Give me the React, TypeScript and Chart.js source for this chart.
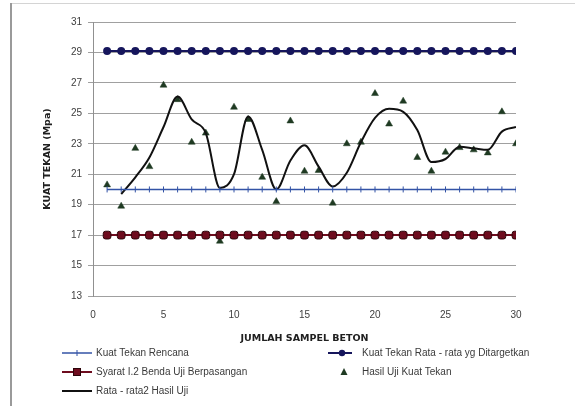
import React, { useEffect, useRef } from "react";
import { Chart, registerables } from "chart.js";
Chart.register(...registerables);

const sampleNo = [1, 2, 3, 4, 5, 6, 7, 8, 9, 10, 11, 12, 13, 14, 15, 16, 17, 18, 19, 20, 21, 22, 23, 24, 25, 26, 27, 28, 29, 30];
const kuatRencana = [20, 20, 20, 20, 20, 20, 20, 20, 20, 20, 20, 20, 20, 20, 20, 20, 20, 20, 20, 20, 20, 20, 20, 20, 20, 20, 20, 20, 20, 20];
const kuatTarget = [29.1, 29.1, 29.1, 29.1, 29.1, 29.1, 29.1, 29.1, 29.1, 29.1, 29.1, 29.1, 29.1, 29.1, 29.1, 29.1, 29.1, 29.1, 29.1, 29.1, 29.1, 29.1, 29.1, 29.1, 29.1, 29.1, 29.1, 29.1, 29.1, 29.1];
const syaratBerpasangan = [17, 17, 17, 17, 17, 17, 17, 17, 17, 17, 17, 17, 17, 17, 17, 17, 17, 17, 17, 17, 17, 17, 17, 17, 17, 17, 17, 17, 17, 17];
const hasilUji = [20.3, 18.9, 22.7, 21.5, 26.85, 25.9, 23.1, 23.7, 16.6, 25.4, 24.6, 20.8, 19.2, 24.5, 21.2, 21.25, 19.1, 23.0, 23.1, 26.3, 24.3, 25.8, 22.1, 21.2, 22.45, 22.75, 22.6, 22.4, 25.1, 23.0];
const rataRata2 = [null, 19.7, 20.8, 22.1, 24.1, 26.1, 24.6, 23.7, 20.1, 21.0, 24.8, 22.6, 20.0, 21.9, 22.9, 21.5, 20.2, 21.1, 23.1, 24.7, 25.3, 25.1, 23.9, 21.8, 22.0, 22.8, 22.7, 22.6, 23.8, 24.1];
const yTicks = [13, 15, 17, 19, 21, 23, 25, 27, 29, 31];
const xTicks = [0, 5, 10, 15, 20, 25, 30];

const legendLabels = [
  "Kuat Tekan Rencana",
  "Kuat Tekan Rata - rata yg Ditargetkan",
  "Syarat I.2 Benda Uji Berpasangan",
  "Hasil Uji Kuat Tekan",
  "Rata - rata2 Hasil Uji",
];

const FONT = "'Liberation Sans', Arial, sans-serif";
const TITLE_FONT = "'DejaVu Sans', sans-serif";
const C_BLUE = "#3353a6";
const C_NAVY = "#16165c";
const C_RED = "#6e0c1e";
const C_RED_BORDER = "#2c0409";
const C_TRI = "#1f3a22";
const C_BLACK = "#111111";

const pts = (ys: (number | null)[]) => sampleNo.map((x, i) => ({ x, y: ys[i] }));

const framePlugin = {
  id: "frame",
  beforeDraw(chart: any) {
    const ctx = chart.ctx;
    ctx.save();
    ctx.fillStyle = "#ffffff";
    ctx.fillRect(0, 0, chart.width, chart.height);
    ctx.strokeStyle = "#d4d4d4";
    ctx.lineWidth = 1;
    ctx.beginPath();
    ctx.moveTo(11, 3.5);
    ctx.lineTo(chart.width, 3.5);
    ctx.stroke();
    ctx.strokeStyle = "#9a9a9a";
    ctx.lineWidth = 2;
    ctx.beginPath();
    ctx.moveTo(11, 3);
    ctx.lineTo(11, chart.height);
    ctx.stroke();
    ctx.restore();
  },
};

function marker(ctx: CanvasRenderingContext2D, kind: string, x: number, y: number) {
  ctx.save();
  if (kind === "tick") {
    ctx.strokeStyle = C_BLUE;
    ctx.lineWidth = 1;
    ctx.beginPath();
    ctx.moveTo(x, y - 3);
    ctx.lineTo(x, y + 3);
    ctx.stroke();
  } else if (kind === "diamond") {
    ctx.fillStyle = C_NAVY;
    ctx.beginPath();
    ctx.arc(x, y, 3.2, 0, Math.PI * 2);
    ctx.fill();
  } else if (kind === "square") {
    ctx.fillStyle = C_RED;
    ctx.strokeStyle = C_RED_BORDER;
    ctx.lineWidth = 1;
    ctx.fillRect(x - 3.5, y - 3.5, 7, 7);
    ctx.strokeRect(x - 3.5, y - 3.5, 7, 7);
  } else if (kind === "triangle") {
    ctx.fillStyle = C_TRI;
    ctx.beginPath();
    ctx.moveTo(x, y - 4);
    ctx.lineTo(x + 3.5, y + 3);
    ctx.lineTo(x - 3.5, y + 3);
    ctx.closePath();
    ctx.fill();
  }
  ctx.restore();
}

const legendPlugin = {
  id: "customLegend",
  afterDraw(chart: any) {
    const ctx: CanvasRenderingContext2D = chart.ctx;
    ctx.save();
    ctx.font = `10px ${FONT}`;
    ctx.fillStyle = "#3a3a3a";
    ctx.textBaseline = "middle";
    const rows = [353, 372, 391];
    const col1 = { x0: 62, x1: 92, tx: 96 };
    const col2 = { x0: 328, x1: 352, tx: 362 };
    const line = (x0: number, x1: number, y: number, color: string, w: number) => {
      ctx.strokeStyle = color;
      ctx.lineWidth = w;
      ctx.beginPath();
      ctx.moveTo(x0, y);
      ctx.lineTo(x1, y);
      ctx.stroke();
    };
    line(col1.x0, col1.x1, rows[0], C_BLUE, 1.5);
    marker(ctx, "tick", (col1.x0 + col1.x1) / 2, rows[0]);
    ctx.fillText(legendLabels[0], col1.tx, rows[0]);
    line(col2.x0, col2.x1, rows[0], C_NAVY, 2);
    marker(ctx, "diamond", 342, rows[0]);
    ctx.fillText(legendLabels[1], col2.tx, rows[0]);
    line(col1.x0, col1.x1, rows[1], C_RED, 2);
    marker(ctx, "square", (col1.x0 + col1.x1) / 2, rows[1]);
    ctx.fillText(legendLabels[2], col1.tx, rows[1]);
    marker(ctx, "triangle", 344, rows[1]);
    ctx.fillStyle = "#3a3a3a";
    ctx.fillText(legendLabels[3], col2.tx, rows[1]);
    line(col1.x0, col1.x1, rows[2], C_BLACK, 2);
    ctx.fillText(legendLabels[4], col1.tx, rows[2]);
    ctx.restore();
  },
};

export default function App() {
  const ref = useRef<HTMLCanvasElement | null>(null);
  useEffect(() => {
    if (!ref.current) return;
    const chart = new Chart(ref.current, {
      type: "line",
      data: {
        datasets: [
          {
            label: legendLabels[0],
            data: pts(kuatRencana),
            borderColor: C_BLUE,
            borderWidth: 1.5,
            pointStyle: "line",
            rotation: 90,
            radius: 3,
            pointBorderColor: C_BLUE,
            pointBorderWidth: 1,
            tension: 0,
          },
          {
            label: legendLabels[1],
            data: pts(kuatTarget),
            borderColor: C_NAVY,
            borderWidth: 2,
            pointStyle: "circle",
            radius: 3,
            pointBackgroundColor: C_NAVY,
            pointBorderColor: C_NAVY,
            tension: 0,
          },
          {
            label: legendLabels[2],
            data: pts(syaratBerpasangan),
            borderColor: C_RED,
            borderWidth: 2,
            pointStyle: "rectRounded",
            radius: 4.5,
            pointBackgroundColor: C_RED,
            pointBorderColor: C_RED_BORDER,
            pointBorderWidth: 1,
            tension: 0,
          },
          {
            label: legendLabels[4],
            data: pts(rataRata2),
            borderColor: C_BLACK,
            borderWidth: 2,
            pointRadius: 0,
            cubicInterpolationMode: "monotone",
            spanGaps: false,
          },
          {
            label: legendLabels[3],
            data: pts(hasilUji),
            showLine: false,
            pointStyle: "triangle",
            radius: 4,
            pointBackgroundColor: C_TRI,
            pointBorderColor: C_TRI,
            pointBorderWidth: 0.5,
          },
        ],
      },
      options: {
        responsive: false,
        animation: false,
        layout: { padding: { left: 42, right: 59, top: 22, bottom: 62 } },
        plugins: { legend: { display: false }, tooltip: { enabled: false } },
        scales: {
          x: {
            type: "linear",
            min: 0,
            max: 30,
            afterBuildTicks: (s: any) => {
              s.ticks = xTicks.map((v) => ({ value: v }));
            },
            afterFit: (s: any) => {
              s.height = 48;
            },
            grid: { display: false },
            border: { display: false },
            ticks: { padding: 5, color: "#404040", font: { family: FONT, size: 10 }, maxRotation: 0 },
            title: {
              display: true,
              text: "JUMLAH SAMPEL BETON",
              color: "#202020",
              font: { family: TITLE_FONT, size: 9.5, weight: "bold" },
              padding: 0,
            },
          },
          y: {
            min: 13,
            max: 31,
            afterBuildTicks: (s: any) => {
              s.ticks = yTicks.map((v) => ({ value: v }));
            },
            afterFit: (s: any) => {
              s.width = 51;
            },
            grid: { color: "#a0a0a0", lineWidth: 1, tickLength: 5, drawTicks: true },
            border: { display: true, color: "#909090", width: 1 },
            ticks: { padding: 6, color: "#404040", font: { family: FONT, size: 10 } },
            title: {
              display: true,
              text: "KUAT TEKAN (Mpa)",
              color: "#202020",
              font: { family: TITLE_FONT, size: 9.5, weight: "bold" },
              padding: 0,
            },
          },
        },
      },
      plugins: [framePlugin, legendPlugin],
    } as any);
    return () => chart.destroy();
  }, []);
  return (
    <div style={{ position: "fixed", left: 0, top: 0, width: 575, height: 406 }}>
      <canvas ref={ref} width={575} height={406} />
    </div>
  );
}
